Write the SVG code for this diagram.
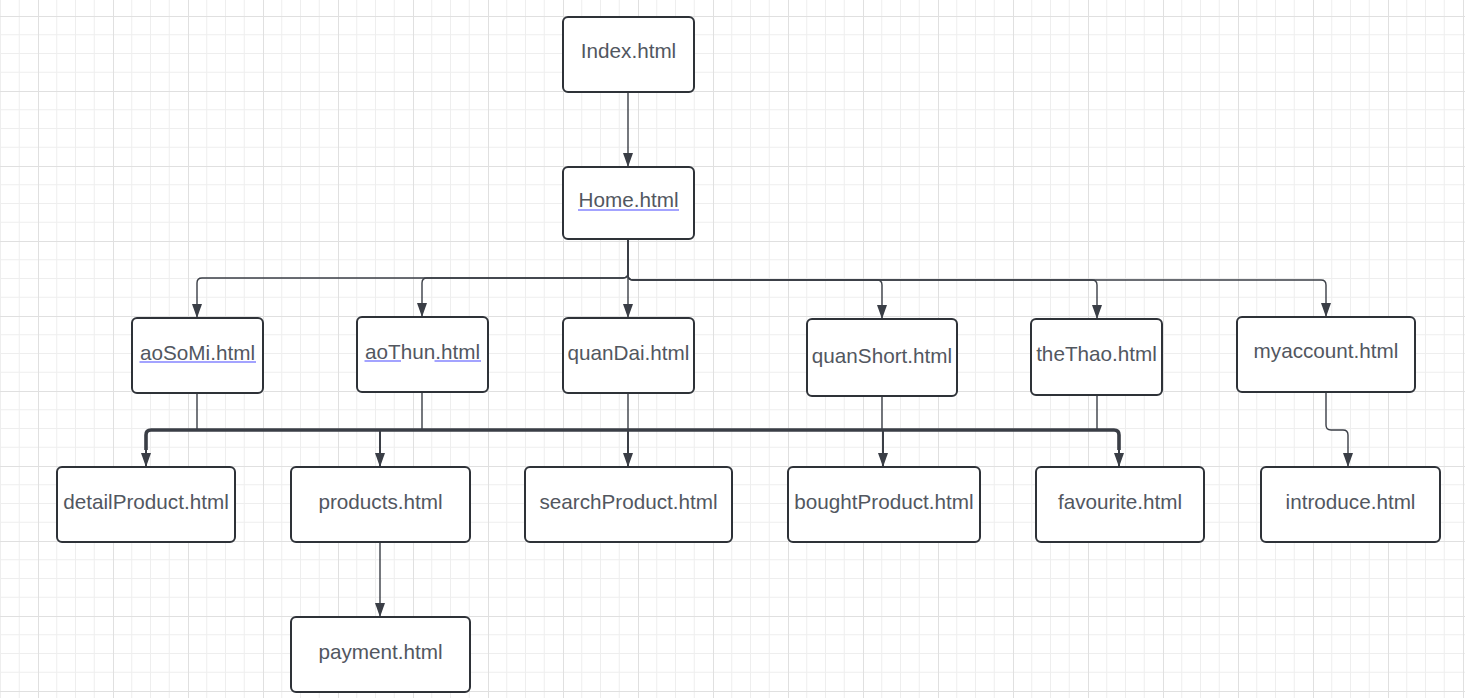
<svg xmlns="http://www.w3.org/2000/svg" width="1465" height="698" viewBox="0 0 1465 698">
<defs>
<pattern id="grid" x="38" y="16" width="75" height="75" patternUnits="userSpaceOnUse">
<path d="M18.75 0V75M37.5 0V75M56.25 0V75M0 18.75H75M0 37.5H75M0 56.25H75" stroke="#eeeeee" stroke-width="1" fill="none"/>
<path d="M0.5 0V75M0 0.5H75" stroke="#e0e0e0" stroke-width="1" fill="none"/>
</pattern>
<marker id="arr" viewBox="0 0 14 10" refX="14" refY="5" markerWidth="14" markerHeight="10" markerUnits="userSpaceOnUse" orient="auto">
<path d="M0 0L14 5L0 10z" fill="#3a3e46"/>
</marker>
<style>
.n rect{fill:#ffffff;stroke:#2e3238;stroke-width:2}
.n text{font-family:"Liberation Sans",Arial,sans-serif;font-size:20.7px;fill:#52575f;text-anchor:middle}
.n line{stroke:#8585ff;stroke-width:1.5}
.c path{fill:none;stroke:#3a3e46;stroke-width:1.4}
.c .a{marker-end:url(#arr)}
.c .bus{stroke-width:3.6}
.c .t{stroke-width:2}
</style>
</defs>
<rect width="1465" height="698" fill="#ffffff"/>
<rect width="1465" height="698" fill="url(#grid)"/>

<g id="connectors" class="c">
<path class="a" d="M628 92V167"/>
<path class="a" d="M628 239V273Q628 278 623 278H202Q197 278 197 283V318"/>
<path class="a" d="M628 239V273Q628 278 623 278H427Q422 278 422 283V317"/>
<path class="a" d="M628 239V318"/>
<path class="a" d="M628 239V275Q628 280 633 280H877Q882 280 882 285V319"/>
<path class="a" d="M628 239V275Q628 280 633 280H1092Q1097 280 1097 285V319"/>
<path class="a" d="M628 239V275Q628 280 633 280H1321Q1326 280 1326 285V317"/>
<path d="M197 393V430"/>
<path d="M422 392V430"/>
<path d="M628 393V430"/>
<path d="M882 396V430"/>
<path d="M1097 395V430"/>
<path class="bus" d="M146 450V435Q146 430 151 430H1114Q1119 430 1119 435V450"/>
<path class="a t" d="M146 440V467"/>
<path class="a t" d="M380 430V467"/>
<path class="a t" d="M628 430V467"/>
<path class="a t" d="M883 430V467"/>
<path class="a t" d="M1119 440V467"/>
<path class="a" d="M1326 392V425Q1326 430 1331 430H1343Q1348 430 1348 435V467"/>
<path class="a" d="M380 542V617"/>
</g>

<g id="index" class="n"><rect x="563" y="17" width="131" height="75" rx="5"/><text x="628.5" y="58">Index.html</text></g>
<g id="home" class="n"><rect x="563" y="167" width="131" height="72" rx="5"/><text x="628.5" y="207">Home.html</text><line x1="578" y1="210" x2="679" y2="210"/></g>
<g id="aoSoMi" class="n"><rect x="132" y="318" width="131" height="75" rx="5"/><text x="197.5" y="360">aoSoMi.html</text><line x1="139.5" y1="362" x2="256" y2="362"/></g>
<g id="aoThun" class="n"><rect x="357" y="317" width="131" height="75" rx="5"/><text x="422.5" y="359">aoThun.html</text><line x1="364.5" y1="361" x2="401" y2="361"/><line x1="434.5" y1="361" x2="481" y2="361"/></g>
<g id="quanDai" class="n"><rect x="563" y="318" width="131" height="75" rx="5"/><text x="628.5" y="360">quanDai.html</text></g>
<g id="quanShort" class="n"><rect x="807" y="319" width="150" height="77" rx="5"/><text x="882" y="363">quanShort.html</text></g>
<g id="theThao" class="n"><rect x="1031" y="319" width="131" height="76" rx="5"/><text x="1096.5" y="361">theThao.html</text></g>
<g id="myaccount" class="n"><rect x="1237" y="317" width="178" height="75" rx="5"/><text x="1326" y="358">myaccount.html</text></g>
<g id="detailProduct" class="n"><rect x="57" y="467" width="178" height="75" rx="5"/><text x="146" y="509">detailProduct.html</text></g>
<g id="products" class="n"><rect x="291" y="467" width="179" height="75" rx="5"/><text x="380.5" y="509">products.html</text></g>
<g id="searchProduct" class="n"><rect x="525" y="467" width="207" height="75" rx="5"/><text x="628.5" y="509">searchProduct.html</text></g>
<g id="boughtProduct" class="n"><rect x="788" y="467" width="192" height="75" rx="5"/><text x="884" y="509">boughtProduct.html</text></g>
<g id="favourite" class="n"><rect x="1036" y="467" width="168" height="75" rx="5"/><text x="1120" y="509">favourite.html</text></g>
<g id="introduce" class="n"><rect x="1261" y="467" width="179" height="75" rx="5"/><text x="1350.5" y="509">introduce.html</text></g>
<g id="payment" class="n"><rect x="291" y="617" width="179" height="75" rx="5"/><text x="380.5" y="659">payment.html</text></g>
</svg>
